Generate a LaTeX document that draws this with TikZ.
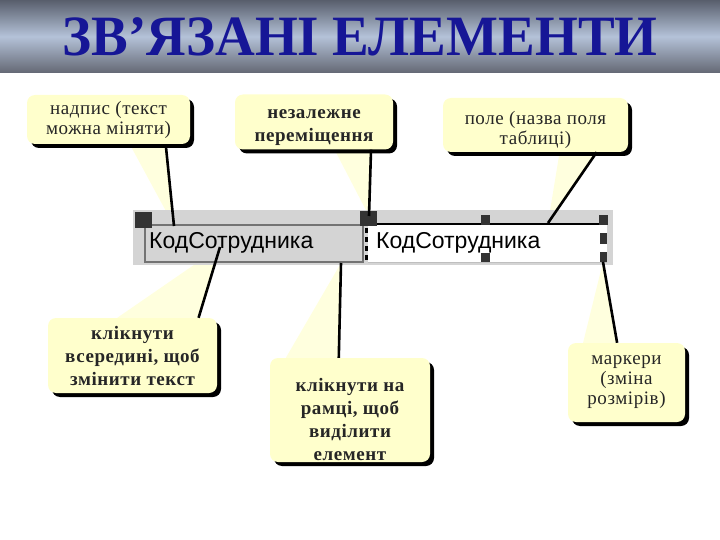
\documentclass[tikz,border=0pt]{standalone}
\usepackage{fontspec}
\setmainfont{Liberation Serif}
\newfontfamily\fieldfam{Liberation Sans}
\newfontfamily\callfam[LetterSpace=3]{Liberation Serif}
\usetikzlibrary{calc,shadows}

\definecolor{notefill}{RGB}{255,255,204}
\definecolor{wedgefill}{RGB}{255,255,222}
\definecolor{titleblue}{RGB}{22,22,150}
\definecolor{bartop}{RGB}{88,94,108}
\definecolor{barmid}{RGB}{180,194,216}
\definecolor{barbot}{RGB}{100,104,116}
\definecolor{stripgray}{RGB}{212,212,212}

\newcommand\callfont{\callfam\fontsize{19}{20}\selectfont}
\newcommand\callfontb{\callfam\fontsize{19}{23}\selectfont\bfseries}
% pushes a callout's text down inside its box
\newcommand\lift[1]{\rule{0pt}{#1pt}}

\pgfdeclarelayer{bg}
\pgfsetlayers{bg,main}

\begin{document}
\begin{tikzpicture}[
  x=1pt, y=-1pt,
  note/.style={rectangle, rounded corners=8pt, fill=notefill, align=center,
    inner sep=0pt, text=black!85, font=\callfont,
    general shadow={fill=black, shadow xshift=4pt, shadow yshift=-4pt}},
  boldnote/.style={note, font=\callfontb},
  wedge/.style={fill=wedgefill},
  pointer/.style={line width=2.6pt, black},
  handle/.style={fill=black!80},
  fieldtext/.style={font=\fieldfam\fontsize{23}{24}\selectfont, inner sep=0pt, anchor=west}
]
  \useasboundingbox (0,0) rectangle (720,540);

  % title bar
  \shade[top color=bartop, bottom color=barbot, middle color=barmid] (0,0) rectangle (720,73);
  \node[font=\fontsize{57}{60}\selectfont\bfseries, text=titleblue, xscale=.965, transform shape]
    (title) at (360,37) {ЗВ’ЯЗАНІ ЕЛЕМЕНТИ};

  % the two bound controls on the form strip
  \fill[stripgray] (133,210) rectangle (613,265);
  \draw[black!55, line width=1.2pt] (145,225) rectangle (363,262);
  \node[fieldtext] (lbl) at (149,243) {КодСотрудника};
  \fill[white] (368,224) rectangle (607,262);
  \draw[black, line width=2pt] (368,224) -- (607,224);
  \draw[black!25, line width=1pt] (368,262) -- (607,262);
  \node[fieldtext] (fld) at (376,243) {КодСотрудника};

  % handles
  \fill[handle] (135,212) rectangle (152,228);
  \fill[handle] (360,211) rectangle (377,226);
  \fill[handle] (481,215) rectangle (490,225);
  \fill[handle] (599,215) rectangle (608,225);
  \fill[handle] (600,233) rectangle (607,244);
  \fill[handle] (600,252) rectangle (607,262);
  \fill[handle] (481,253) rectangle (490,262);
  \draw[black, line width=3pt, dash pattern=on 5pt off 4pt] (366,228) -- (366,262);

  % where the pointers end
  \coordinate (lblframe) at (174,226);
  \coordinate (movehandle) at (369,216);
  \coordinate (fldframe) at (548,223);
  \coordinate (lbltext) at (220,247);
  \coordinate (lblbottom) at (341,263);
  \coordinate (sizehandle) at (603,262);

  % callouts
  \node[note, minimum width=163pt, minimum height=49pt] (caption) at (108.5,119.5)
    {надпис (текст\\можна міняти)};
  \node[boldnote, minimum width=158pt, minimum height=55pt] (move) at (314,122)
    {\lift{21}незалежне\\переміщення};
  \node[note, minimum width=185pt, minimum height=54pt] (field) at (535.5,125)
    {\lift{23}поле (назва поля\\таблиці)};
  \node[boldnote, minimum width=169pt, minimum height=75pt] (inside) at (132.5,355.5)
    {клікнути\\всередині, щоб\\змінити текст};
  \node[boldnote, minimum width=160pt, minimum height=104pt] (border) at (350,410)
    {\lift{33}клікнути на\\рамці, щоб\\виділити\\елемент};
  \node[note, minimum width=117pt, minimum height=79pt] (markers) at (626.5,382.5)
    {маркери\\(зміна\\розмірів)};

  % pointer wedges behind everything, black edge on top
  \begin{pgfonlayer}{bg}
    \fill[wedge] ($(caption.south west)!.63!(caption.south east)$) -- (lblframe)
      -- ($(caption.south west)!.85!(caption.south east)$) -- cycle;
    \fill[wedge] ($(move.south west)!.63!(move.south east)$) -- (movehandle)
      -- ($(move.south west)!.86!(move.south east)$) -- cycle;
    \fill[wedge] ($(field.south west)!.63!(field.south east)$) -- (fldframe)
      -- ($(field.south west)!.83!(field.south east)$) -- cycle;
    \fill[wedge] ($(inside.north west)!.41!(inside.north east)$) -- (lbltext)
      -- ($(inside.north west)!.89!(inside.north east)$) -- cycle;
    \fill[wedge] ($(border.north west)!.1!(border.north east)$) -- (lblbottom)
      -- ($(border.north west)!.43!(border.north east)$) -- cycle;
    \fill[wedge] ($(markers.north west)!.13!(markers.north east)$) -- (sizehandle)
      -- ($(markers.north west)!.42!(markers.north east)$) -- cycle;
  \end{pgfonlayer}

  \draw[pointer] ($(caption.south west)!.85!(caption.south east)$) -- (lblframe);
  \draw[pointer] ($(move.south west)!.86!(move.south east)$) -- (movehandle);
  \draw[pointer] ($(field.south west)!.83!(field.south east)$) -- (fldframe);
  \draw[pointer] ($(inside.north west)!.89!(inside.north east)$) -- (lbltext);
  \draw[pointer] ($(border.north west)!.43!(border.north east)$) -- (lblbottom);
  \draw[pointer] ($(markers.north west)!.42!(markers.north east)$) -- (sizehandle);
\end{tikzpicture}
\end{document}
